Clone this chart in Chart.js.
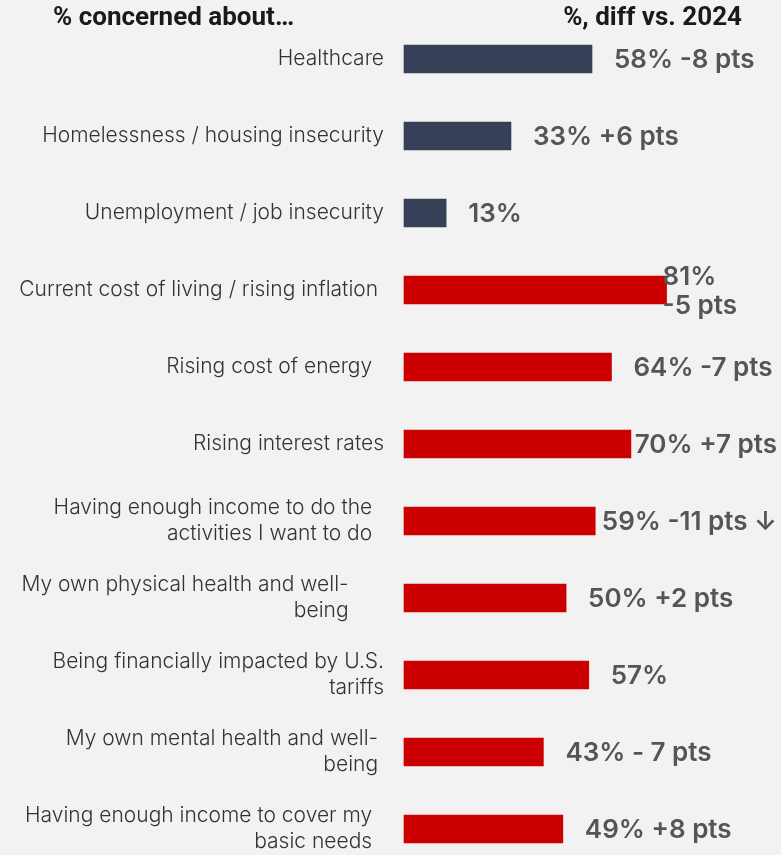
<!DOCTYPE html>
<html>
<head>
<meta charset="utf-8">
<script src="https://cdn.jsdelivr.net/npm/chart.js@4"></script>
<style>
  html, body { margin: 0; padding: 0; background: #f2f2f2; }
  #wrap { position: relative; width: 781px; height: 855px; }
  .head {
    position: absolute; top: 1px;
    font-family: "Liberation Sans Narrow", "Roboto", sans-serif;
    font-weight: bold; font-size: 26px; color: #1a1a1a;
  }
  #headLeft { left: 53px; }
  #headRight { right: 39px; }
</style>
</head>
<body>
<div id="wrap">
  <div class="head" id="headLeft">% concerned about…</div>
  <div class="head" id="headRight">%, diff vs. 2024</div>
  <canvas id="chart" width="781" height="855"></canvas>
</div>
<script>
// Concern items (trailing spaces kept as in the original text boxes)
const categories = [
    'Healthcare',
    'Homelessness / housing insecurity',
    'Unemployment / job insecurity',
    'Current cost of living / rising inflation ',
    'Rising cost of energy  ',
    'Rising interest rates',
    ['Having enough income to do the  ', 'activities I want to do  '],
    ['My own physical health and well-      ', 'being      '],
    ['Being financially impacted by U.S.', 'tariffs'],
    ['My own mental health and well- ', 'being '],
    ['Having enough income to cover my  ', 'basic needs  ']
];

const values = [58, 33, 13, 81, 64, 70, 59, 50, 57, 43, 49];

const valueLabels = [
    '58% -8 pts',
    '33% +6 pts',
    '13%',
    ['81%', '-5 pts'],
    '64% -7 pts',
    '70% +7 pts',
    '59% -11 pts ↓',
    '50% +2 pts',
    '57%',
    '43% - 7 pts',
    '49% +8 pts'
];

// first three items are the social group (navy), the rest red
const socialCount = 3;

const valueLabelPlugin = {
    id: 'valueLabels',
    afterDatasetsDraw(chart) {
        const ctx = chart.ctx;
        const meta = chart.getDatasetMeta(0);
        ctx.save();
        ctx.font = '600 26px Inter, "Noto Sans", sans-serif';
        ctx.fillStyle = '#555555';
        ctx.textAlign = 'left';
        ctx.textBaseline = 'middle';
        meta.data.forEach((bar, i) => {
            const label = valueLabels[i];
            if (Array.isArray(label)) {
                const lh = 29;
                label.forEach((line, j) => {
                    const y = bar.y + 2 + (j - (label.length - 1) / 2) * lh;
                    ctx.fillText(line, bar.x - 4, y);
                });
            } else {
                // keep the label inside the canvas when the bar is long
                const w = ctx.measureText(label).width;
                const gap = Math.min(22, chart.width - 4 - w - bar.x);
                ctx.fillText(label, bar.x + gap, bar.y + 1);
            }
        });
        ctx.restore();
    }
};

new Chart(document.getElementById('chart'), {
    type: 'bar',
    data: {
        labels: categories,
        datasets: [{
            data: values,
            backgroundColor: ctx => ctx.dataIndex < socialCount ? '#364057' : '#cc0000',
            borderWidth: 0,
            barThickness: 28,
            clip: false
        }]
    },
    options: {
        indexAxis: 'y',
        responsive: false,
        animation: false,
        layout: { padding: { top: 59, bottom: 26, left: 0, right: 0 } },
        plugins: {
            legend: { display: false },
            tooltip: { enabled: false }
        },
        scales: {
            x: {
                display: false,
                min: 0,
                max: 116.3
            },
            y: {
                offset: false,
                border: { display: false },
                grid: { display: false, drawTicks: false },
                afterFit: scale => {
                    scale.width = 404;
                    scale.paddingTop = 0;
                    scale.paddingBottom = 0;
                },
                ticks: {
                    padding: 20,
                    color: '#333333',
                    font: { family: 'Inter, "Noto Sans", sans-serif', size: 21, weight: 300, lineHeight: 1.25 }
                }
            }
        }
    },
    plugins: [valueLabelPlugin]
});
</script>
</body>
</html>
